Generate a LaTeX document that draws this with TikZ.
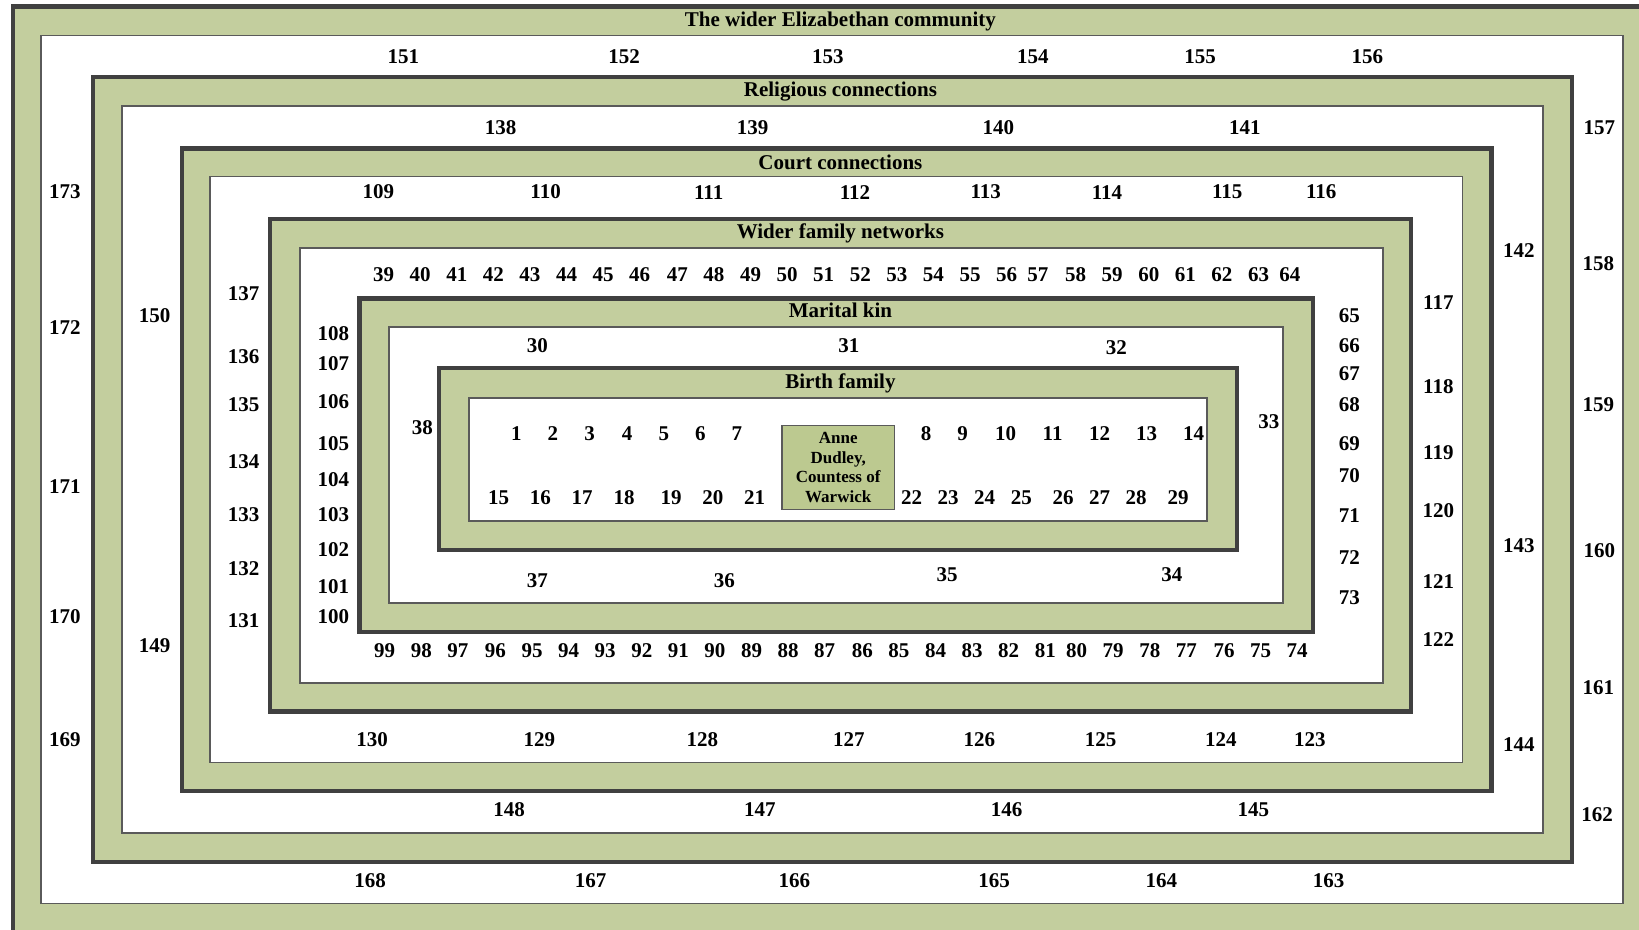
\documentclass[tikz,border=0pt]{standalone}
\usepackage{fontspec}
\setmainfont{Liberation Serif}
\definecolor{band}{RGB}{195,206,158}
\definecolor{core}{RGB}{188,201,144}
\definecolor{darkline}{RGB}{64,64,64}
\definecolor{thinline}{RGB}{90,90,90}
\tikzset{
  bandbox/.style={fill=band, draw=darkline, line width=2.25pt},
  whitebox/.style={fill=white, draw=thinline, line width=0.8pt},
  num/.style={font=\fontsize{10.5}{12}\selectfont\bfseries, inner sep=0pt},
  ttl/.style={font=\fontsize{10.5}{12}\selectfont\bfseries, inner sep=0pt},
  corebox/.style={fill=core, draw=thinline, line width=0.8pt, inner sep=0pt,
    align=center, font=\fontsize{8.5}{9.85}\selectfont\bfseries}
}
\begin{document}
\begin{tikzpicture}[x=0.52265pt, y=-0.52265pt]
\useasboundingbox (0,0) rectangle (1568,889.7);
\begin{scope}
\clip (0,0) rectangle (1568,889.7);
% layer 1
\draw[bandbox] (12.4,6.2) rectangle (1600,930);
\draw[whitebox] (39.2,34) rectangle (1552.7,864.4);
% layer 2
\draw[bandbox] (89,73.7) rectangle (1503.9,824.6);
\draw[whitebox] (116.7,101.4) rectangle (1476.1,796.9);
% layer 3
\draw[bandbox] (174.1,142.1) rectangle (1426.9,756.7);
\draw[whitebox] (200.9,169) rectangle (1399.3,729.6);
% layer 4
\draw[bandbox] (258.3,209.5) rectangle (1349.8,680.7);
\draw[whitebox] (287,237.3) rectangle (1323,653.4);
% layer 5
\draw[bandbox] (343.9,285.6) rectangle (1256.1,604.6);
\draw[whitebox] (372.1,312.8) rectangle (1227.4,576.9);
% layer 6
\draw[bandbox] (420,352) rectangle (1183.4,526.2);
\draw[whitebox] (448.7,380.8) rectangle (1154.7,498.4);
\end{scope}
% centre
\node[corebox, minimum width=107.6*0.52265pt, minimum height=80.3*0.52265pt] (anne) at (801.9,447.25) {Anne\\Dudley,\\Countess of\\Warwick};
% titles
\node[ttl] (t1) at (804,20.5) {The wider Elizabethan community};
\node[ttl] (t2) at (804,87.5) {Religious connections};
\node[ttl] (t3) at (804,155) {Court connections};
\node[ttl] (t4) at (804,223.5) {Wider family networks};
\node[ttl] (t5) at (804,297) {Marital kin};
\node[ttl] (t6) at (804,366.5) {Birth family};
% labels
\begin{scope}[yshift=-0.4pt]
\foreach \n/\x/\y in {
151/386/53,152/597/53,153/792/53,154/988/53,155/1148/53,156/1308/53,
157/1530/121,158/1529/251,159/1529/386,160/1530/526,161/1529/657,162/1528/779,
163/1271/842,164/1111/842,165/951/842,166/760/842,167/565/842,168/354/842,
169/62/707,170/62/589,171/62/465,172/62/313,173/62/183,
138/479/121,139/720/121,140/955/121,141/1191/121,
142/1453/239,143/1453/521,144/1453/712,
145/1199/774,146/963/774,147/727/774,148/487/774,
149/148/617,150/148/301,
109/362/183,110/522/183,111/678/183,112/818/183,113/943/183,114/1059/183,115/1174/183,116/1264/183,
117/1376/289,118/1376/369,119/1376/432,120/1376/488,121/1376/556,122/1376/611,
123/1253/707,124/1168/707,125/1053/707,126/937/707,127/812/707,128/672/707,129/516/707,130/356/707,
131/233/593,132/233/543,133/233/492,134/233/441,135/233/386,136/233/340,137/233/280,
39/367/262,40/402/262,41/437/262,42/472/262,43/507/262,44/542/262,45/577/262,46/612/262,
47/648/262,48/683/262,49/718/262,50/753/262,51/788/262,52/823/262,53/858/262,54/893/262,
55/928/262,56/963/262,57/993/262,58/1029/262,59/1064/262,60/1099/262,61/1134/262,62/1169/262,
63/1204/262,64/1234/262,
65/1291/301,66/1291/330,67/1291/357,68/1291/386,69/1291/424,70/1291/454,71/1291/492,72/1291/533,73/1291/571,
74/1241/622,75/1206/622,76/1171/622,77/1135/622,78/1100/622,79/1065/622,80/1030/622,81/1000/622,
82/965/622,83/930/622,84/895/622,85/860/622,86/825/622,87/789/622,88/754/622,89/719/622,90/684/622,
91/649/622,92/614/622,93/579/622,94/544/622,95/509/622,96/474/622,97/438/622,98/403/622,99/368/622,
100/319/589,101/319/560,102/319/525,103/319/492,104/319/458,105/319/424,106/319/383,107/319/347,108/319/318,
30/514/330,31/812/330,32/1068/332,33/1214/403,34/1121/549,35/906/549,36/693/555,37/514/555,38/404/408,
1/494/414,2/529/414,3/564/414,4/600/414,5/635/414,6/670/414,7/705/414,
8/886/414,9/921/414,10/962/414,11/1007/414,12/1052/414,13/1097/414,14/1142/414,
15/477/475,16/517/475,17/557/475,18/597/475,19/642/475,20/682/475,21/722/475,
22/872/475,23/907/475,24/942/475,25/977/475,26/1017/475,27/1052/475,28/1087/475,29/1127/475}
  \node[num] (n\n) at (\x,\y) {\n};
\end{scope}
\end{tikzpicture}
\end{document}
